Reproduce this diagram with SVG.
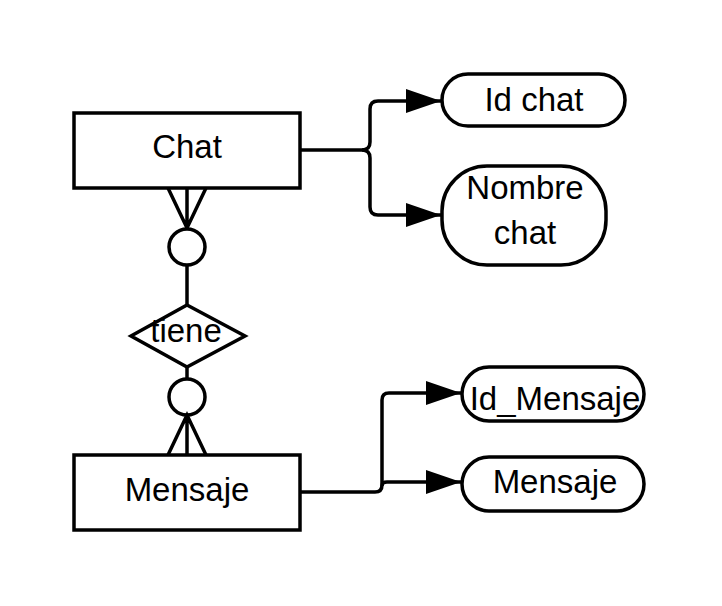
<svg xmlns="http://www.w3.org/2000/svg" width="722" height="606" viewBox="0 0 722 606">
<defs>
<style>
.shape{fill:#fff;stroke:#000;stroke-width:3.5}
.line{fill:none;stroke:#000;stroke-width:3.5}
.conn{fill:none;stroke:#000;stroke-width:3.5}
text{font-family:"Liberation Sans",Arial,sans-serif;font-size:33px;fill:#000;text-anchor:middle}
</style>
<marker id="arrow" markerUnits="userSpaceOnUse" markerWidth="36" markerHeight="26" refX="35" refY="12" orient="auto">
<path d="M0,0 L35,12 L0,24 Z" fill="#000"/>
</marker>
</defs>
<rect width="722" height="606" fill="#fff"/>
<g id="connectors">
<path class="conn" d="M300,150 H362 Q370,150 370,142 V109 Q370,101 378,101 H441" marker-end="url(#arrow)"/>
<path class="conn" d="M362,150 Q370,150 370,158 V207 Q370,215 378,215 H441" marker-end="url(#arrow)"/>
<path class="conn" d="M300,492 H375 Q382,492 382,485 V400 Q382,393 389,393 H461" marker-end="url(#arrow)"/>
<path class="conn" d="M382,486 Q382,482 387,482 H461" marker-end="url(#arrow)"/>
<g id="rel-chat-mensaje">
<path class="line" d="M168,188 L187,228 L206,188 M187,188 V229"/>
<circle class="shape" cx="187" cy="247" r="18"/>
<path class="line" d="M187,265 V305"/>
<path class="line" d="M187,367 V379"/>
<circle class="shape" cx="187" cy="397" r="18"/>
<path class="line" d="M168,455 L187,415 L206,455 M187,415 V455"/>
</g>
</g>
<g id="chat">
<rect class="shape" x="74" y="113" width="226" height="75"/>
<text x="187" y="158">Chat</text>
</g>
<g id="mensaje">
<rect class="shape" x="74" y="455" width="226" height="75"/>
<text x="187" y="501">Mensaje</text>
</g>
<g id="tiene">
<polygon class="shape" points="187,305 245,336 187,367 131,336"/>
<text x="186" y="342">tiene</text>
</g>
<g id="id-chat">
<rect class="shape" x="442" y="74" width="183" height="52" rx="26" ry="26"/>
<text x="534" y="111">Id chat</text>
</g>
<g id="nombre-chat">
<rect class="shape" x="442" y="166" width="164" height="99" rx="45" ry="45"/>
<text x="525" y="199">Nombre</text>
<text x="525" y="244">chat</text>
</g>
<g id="id-mensaje">
<rect class="shape" x="462" y="367" width="182" height="54" rx="27" ry="27"/>
<text x="555" y="410">Id_Mensaje</text>
</g>
<g id="mensaje-attr">
<rect class="shape" x="462" y="457" width="182" height="54" rx="27" ry="27"/>
<text x="555" y="493">Mensaje</text>
</g>
</svg>
